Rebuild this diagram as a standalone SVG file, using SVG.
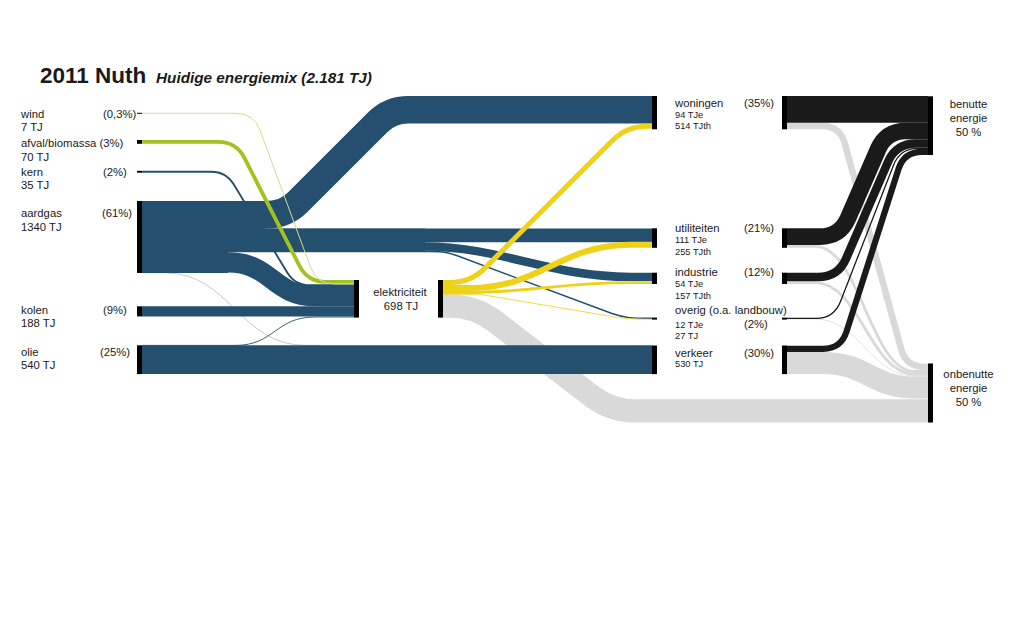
<svg xmlns="http://www.w3.org/2000/svg" width="1023" height="619" viewBox="0 0 1023 619">
<style>
text{font-family:"Liberation Sans",Arial,sans-serif;fill:#1a1a1a;font-size:11.3px}
.sm{font-size:9.3px}
.mid{text-anchor:middle}
.bar{fill:#000}
.f{fill:none;stroke-linecap:butt}
.b{stroke:#244f6e}
.bf{fill:#244f6e}
.g{stroke:#d9d9d9}
.y{stroke:#edd219}
.k{stroke:#1a1a1a}
.gr{stroke:#a4c21f}
</style>
<rect width="1023" height="619" fill="#fff"/>
<g id="title">
<text x="40" y="83" style="font-size:22.5px;font-weight:bold">2011 Nuth</text>
<text x="156" y="83" style="font-size:15.3px;font-weight:bold;font-style:italic">Huidige energiemix (2.181 TJ)</text>
</g>
<g id="connectors">
<!-- losses (grey) behind -->
<path class="f g" stroke-width="23.3" d="M443,306.1 H450 Q475,306.1 494.8,321.35 L591.2,395.65 Q611,410.9 636,410.9 H928"/>
<path class="f g" stroke-width="6.6" d="M787,126 H822 Q840,126 844.75,143.35 L901.25,349.45 Q906,366.8 924,366.8 H928"/>
<path class="f g" stroke-width="2.8" d="M787,246.3 H815 C860,246.3 870,371.5 915,371.5 H928"/>
<path class="f g" stroke-width="2.8" d="M787,282.6 H815 C860,282.6 870,374.3 915,374.3 H928"/>
<path class="f g" stroke-width="0.8" d="M787,319 H815 C860,319 870,376.1 915,376.1 H928"/>
<path class="f g" stroke-width="22.1" d="M787,362.95 H822 C868,362.95 870,387.55 916,387.55 H928"/>
<!-- blue sources -->
<path class="f b" stroke-width="1.9" d="M142,171.7 H211 Q226,171.7 233.8,184.5 L287.2,272.4 Q295,285.2 310,285.2 H354"/>
<path class="f" stroke="#b3bbc4" stroke-width="0.8" d="M142,272.8 H165 C230,272.8 240,345.3 305,345.3 H320"/>
<path class="f b" stroke-width="0.9" d="M142,345.4 H235 C275,345.4 275,317 315,317 H354"/>
<rect class="bf" x="142" y="201" width="86" height="72"/>
<rect class="bf" x="142" y="201" width="123" height="41"/>
<rect class="bf" x="142" y="228.6" width="283" height="22.4"/>
<path class="f b" stroke-width="27.6" d="M142,214.8 H267.2 Q285.2,214.8 297.9,202.1 L377.5,122.5 Q390.2,109.8 408.2,109.8 H652"/>
<path class="f b" stroke-width="13.7" d="M142,235.45 H652"/>
<path class="f b" stroke-width="8.4" d="M142,246.5 H425 C500,246.5 550,276.9 630,276.9 H652"/>
<path class="f b" stroke-width="1.4" d="M142,251.5 H430 C445,251.5 448,252.5 458,256 L612,313.5 C625,318 632,318.3 652,318.3"/>
<path class="f b" stroke-width="20.3" d="M142,262.4 H228 C272,262.4 272,296.2 316,296.2 H354"/>
<path class="f b" stroke-width="10.1" d="M142,311.35 H354"/>
<path class="f b" stroke-width="28.8" d="M142,359.7 H652"/>
<!-- green / wind -->
<path class="f gr" stroke-width="3.8" d="M142,141.9 H218.2 Q236.2,141.9 244.4,157.9 L299.5,265.9 Q307.7,281.9 325.7,281.9 H354"/>
<path class="f" stroke="#d3db96" stroke-width="1" d="M142,113.3 H235.8 Q253.8,113.3 260,130.2 L310.5,267.1 Q316.7,284 334.7,284 H354"/>
<!-- electricity (yellow) -->
<path class="f y" stroke-width="0.8" d="M443,294.3 H480 L618,317.5 Q628,319.2 645,319.2 H652"/>
<path class="f y" stroke-width="2.9" d="M443,292.55 H465 C530,292.55 560,282.6 630,282.6 H652"/>
<path class="f y" stroke-width="6" d="M443,288.1 H470 C540,288.1 560,244.8 630,244.8 H652"/>
<path class="f y" stroke-width="5.1" d="M443,282.5 H450.5 Q470.5,282.5 484.6,268.4 L612.7,140.3 Q626.8,126.2 646.8,126.2 H652"/>
<!-- used energy (black) -->
<path class="f k" stroke-width="26.7" d="M787,109.35 H928"/>
<path class="f k" stroke-width="6.2" d="M787,348.8 H823 Q841,348.8 846.5,331.65 L898.5,169.05 Q904,151.9 922,151.9 H928"/>
<path class="f k" stroke-width="1.3" d="M787,318.3 H816 Q834,318.3 840.5,301.4 L893.5,165.2 Q900,148.4 918,148.4 H928"/>
<path class="f k" stroke-width="8.5" d="M787,277 H818 Q838,277 846,258.7 L888,161.85 Q896,143.55 916,143.55 H928"/>
<path class="f k" stroke-width="16.6" d="M787,236.6 H820 Q840,236.6 848,218.26 L878,149.34 Q886,131 906,131 H928"/>
</g>
<g id="node-wind"><rect class="bar" x="137" y="112.8" width="5" height="1"/><text x="21" y="117.5">wind</text><text x="103" y="117.5">(0,3%)</text><text x="21" y="131">7 TJ</text></g>
<g id="node-afval"><rect class="bar" x="137" y="140" width="5" height="3.8"/><text x="21" y="147.3">afval/biomassa (3%)</text><text x="21" y="160.7">70 TJ</text></g>
<g id="node-kern"><rect class="bar" x="137" y="170.8" width="5" height="1.9"/><text x="21" y="175.7">kern</text><text x="103" y="175.7">(2%)</text><text x="21" y="189.3">35 TJ</text></g>
<g id="node-aardgas"><rect class="bar" x="137" y="201" width="5" height="72"/><text x="21" y="217.3">aardgas</text><text x="102" y="217.3">(61%)</text><text x="21" y="230.7">1340 TJ</text></g>
<g id="node-kolen"><rect class="bar" x="137" y="306.3" width="5" height="10.1"/><text x="21" y="314">kolen</text><text x="103" y="314">(9%)</text><text x="21" y="327.3">188 TJ</text></g>
<g id="node-olie"><rect class="bar" x="137" y="345.3" width="5" height="28.8"/><text x="21" y="356">olie</text><text x="100" y="356">(25%)</text><text x="21" y="369.3">540 TJ</text></g>
<g id="node-elektriciteit"><rect class="bar" x="354" y="280" width="5" height="37.6"/><rect class="bar" x="438" y="280" width="5" height="37.6"/><text class="mid" x="400" y="296">elektriciteit</text><text class="mid" x="401" y="310">698 TJ</text></g>
<g id="node-woningen"><rect class="bar" x="652" y="96" width="5" height="33.3"/><rect class="bar" x="782" y="96" width="5" height="33.3"/><text x="675" y="106.7">woningen</text><text x="744" y="106.7">(35%)</text><text class="sm" x="675" y="117.5">94 TJe</text><text class="sm" x="675" y="128.5">514 TJth</text></g>
<g id="node-utiliteiten"><rect class="bar" x="652" y="228.3" width="5" height="19.5"/><rect class="bar" x="782" y="228.3" width="5" height="19.5"/><text x="675" y="231.7">utiliteiten</text><text x="744" y="231.7">(21%)</text><text class="sm" x="675" y="243.3">111 TJe</text><text class="sm" x="675" y="255">255 TJth</text></g>
<g id="node-industrie"><rect class="bar" x="652" y="272.7" width="5" height="11.3"/><rect class="bar" x="782" y="272.7" width="5" height="11.3"/><text x="675" y="276">industrie</text><text x="744" y="276">(12%)</text><text class="sm" x="675" y="287.3">54 TJe</text><text class="sm" x="675" y="299">157 TJth</text></g>
<g id="node-overig"><rect class="bar" x="652" y="317.6" width="5" height="2"/><rect class="bar" x="782" y="317.6" width="5" height="2"/><text x="675" y="314">overig (o.a. landbouw)</text><text class="sm" x="675" y="328.3">12 TJe</text><text x="744" y="328.3">(2%)</text><text class="sm" x="675" y="338.5">27 TJ</text></g>
<g id="node-verkeer"><rect class="bar" x="652" y="345.5" width="5" height="28.6"/><rect class="bar" x="782" y="345.5" width="5" height="28.6"/><text x="675" y="356.7">verkeer</text><text x="744" y="356.7">(30%)</text><text class="sm" x="675" y="367.3">530 TJ</text></g>
<g id="node-benutte"><rect class="bar" x="928" y="96.3" width="5" height="58.7"/><text class="mid" x="968.5" y="108.3">benutte</text><text class="mid" x="968.5" y="122.3">energie</text><text class="mid" x="968.5" y="136.3">50 %</text></g>
<g id="node-onbenutte"><rect class="bar" x="928" y="363.5" width="5" height="59"/><text class="mid" x="968.5" y="378.3">onbenutte</text><text class="mid" x="968.5" y="392.3">energie</text><text class="mid" x="968.5" y="406">50 %</text></g>
</svg>
